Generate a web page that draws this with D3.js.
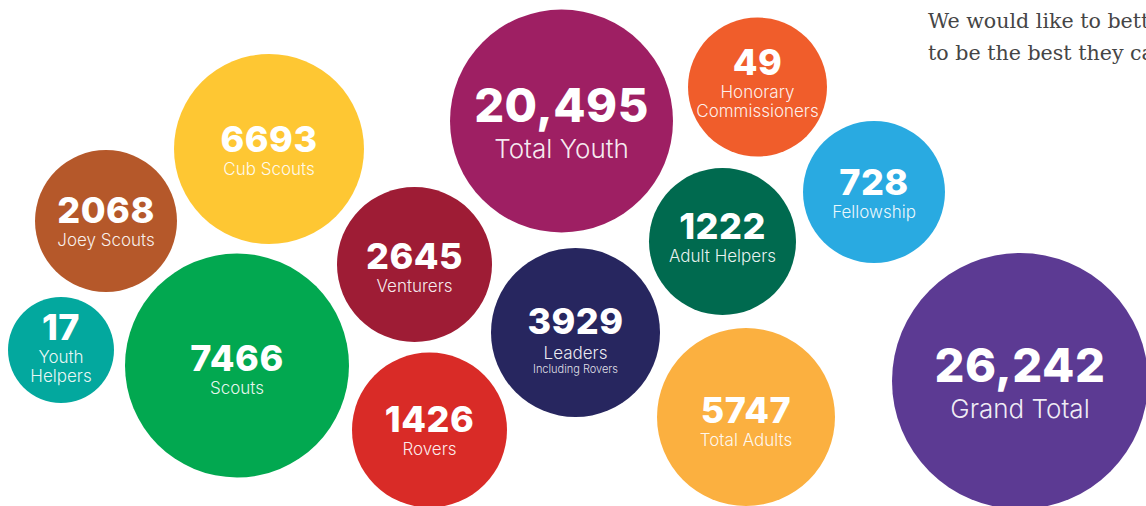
<!DOCTYPE html>
<html>
<head>
<meta charset="utf-8">
<script src="https://cdn.jsdelivr.net/npm/d3@7"></script>
<style>
  html, body { margin: 0; padding: 0; background: #ffffff; overflow: hidden; }
  svg { display: block; }
</style>
</head>
<body>
<svg id="chart" width="1146" height="506"></svg>
<script>
// ---- data ----
const categories = ["Youth Helpers", "Joey Scouts", "Cub Scouts", "Scouts", "Venturers", "Rovers",
  "Total Youth", "Leaders", "Honorary Commissioners", "Adult Helpers", "Fellowship", "Total Adults", "Grand Total"];
const values = [17, 2068, 6693, 7466, 2645, 1426, 20495, 3929, 49, 1222, 728, 5747, 26242];
const labelLines = [["Youth", "Helpers"], ["Joey Scouts"], ["Cub Scouts"], ["Scouts"], ["Venturers"], ["Rovers"],
  ["Total Youth"], ["Leaders"], ["Honorary", "Commissioners"], ["Adult Helpers"], ["Fellowship"], ["Total Adults"], ["Grand Total"]];
const subLabels = ["", "", "", "", "", "", "", "Including Rovers", "", "", "", "", ""];
const isTotal = [false, false, false, false, false, false, true, false, false, false, false, false, true];
const introLines = ["We would like to better", "to be the best they can"];

// ---- layout (design coordinates) ----
const layoutX = [61, 106, 269, 237, 414.5, 429.5, 561.5, 575.5, 757.5, 722.5, 874, 746, 1020];
const layoutY = [350, 221, 149, 365.5, 264.5, 430, 121, 332.5, 87, 241.5, 192, 417, 381];
const layoutR = [53, 71, 95, 112, 77.5, 77.5, 111.5, 84.5, 69.5, 73.5, 71, 89, 128];
const textDy = [-10, 2, 3, 5.5, 4.5, 2, 1, 1.5, -12, -2.5, 3, 6, 1];
const colors = ["#03a89e", "#b5582a", "#fec733", "#02a850", "#9e1c35", "#d92b27",
  "#9e1f63", "#27265f", "#f05d2b", "#006a4f", "#29aae1", "#fbb040", "#5c3a93"];

const W = 1146, H = 506;
const svg = d3.select("#chart");
const x = d3.scaleLinear().domain([0, 1146]).range([0, W]);
const y = d3.scaleLinear().domain([0, 506]).range([0, H]);
const rs = d3.scaleLinear().domain([0, 1146]).range([0, W]);
const fmt = v => v >= 10000 ? d3.format(",")(v) : String(v);

const data = categories.map((c, i) => ({
  name: c, value: values[i], lines: labelLines[i], sub: subLabels[i], total: isTotal[i],
  cx: layoutX[i], cy: layoutY[i], r: layoutR[i], dy: textDy[i], color: colors[i]
}));

const g = svg.append("g");
const node = g.selectAll("g.bubble").data(data).join("g")
  .attr("class", "bubble")
  .attr("transform", d => `translate(${x(d.cx)},${y(d.cy)})`);

node.append("circle")
  .attr("r", d => rs(d.r))
  .attr("fill", d => d.color);

node.each(function(d) {
  const sel = d3.select(this);
  const numSize = d.total ? 47 : 36;
  const labSize = d.total ? 26 : 17;
  const gap1 = d.total ? 36 : (d.sub ? 25 : 23);
  const lineGap = 18.5;
  const numBase = d.dy;
  sel.append("text")
    .attr("text-anchor", "middle")
    .attr("y", numBase)
    .attr("fill", "#ffffff")
    .style("font-family", "Inter, 'Open Sans', sans-serif")
    .style("font-weight", 800)
    .style("font-size", numSize + "px")
    .style("letter-spacing", "0.5px")
    .text(fmt(d.value));
  d.lines.forEach((ln, k) => {
    sel.append("text")
      .attr("text-anchor", "middle")
      .attr("y", numBase + gap1 + k * lineGap)
      .attr("fill", "rgba(255,255,255,0.92)")
      .style("font-family", "Inter, 'Open Sans', sans-serif")
      .style("font-weight", 300)
      .style("font-size", labSize + "px")
      .text(ln);
  });
  if (d.sub) {
    sel.append("text")
      .attr("text-anchor", "middle")
      .attr("y", numBase + gap1 + 14)
      .attr("fill", "rgba(255,255,255,0.88)")
      .style("font-family", "Inter, 'Open Sans', sans-serif")
      .style("font-weight", 300)
      .style("font-size", "11px")
      .text(d.sub);
  }
});

// intro paragraph (runs off the right edge, as in the source page)
svg.append("clipPath").attr("id", "clipR").append("rect")
  .attr("x", 0).attr("y", 0).attr("width", W).attr("height", H);
const intro = svg.append("g").attr("clip-path", "url(#clipR)");
intro.selectAll("text").data(introLines).join("text")
  .attr("x", x(928))
  .attr("y", (d, i) => y(28) + i * 32)
  .attr("fill", "#454545")
  .style("font-family", "'DejaVu Serif', serif")
  .style("font-size", "20.6px")
  .text(d => d);
</script>
</body>
</html>
